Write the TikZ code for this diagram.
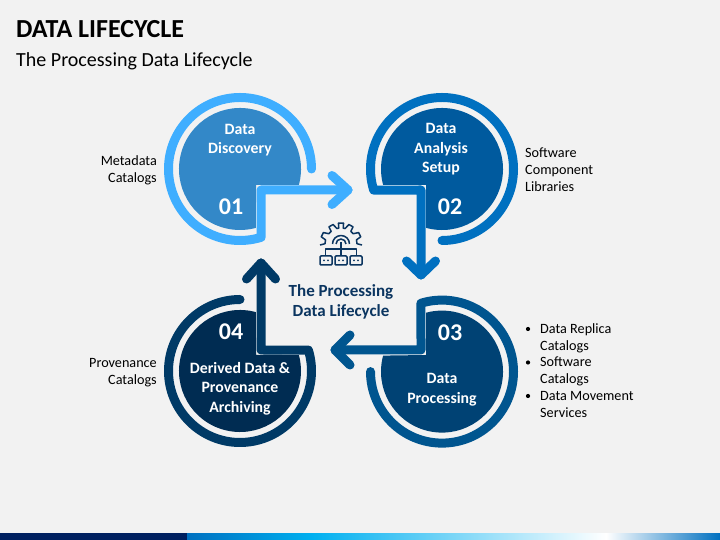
\documentclass[tikz,border=0pt]{standalone}
\usepackage{fontspec}
\setmainfont{Carlito}
\usetikzlibrary{calc}
\definecolor{bgc}{HTML}{F2F2F2}
\definecolor{ringa}{HTML}{3FAEFF}
\definecolor{disca}{HTML}{3388C8}
\definecolor{ringb}{HTML}{0070C0}
\definecolor{discb}{HTML}{005A9E}
\definecolor{ringc}{HTML}{00558F}
\definecolor{discc}{HTML}{004274}
\definecolor{ringd}{HTML}{003A66}
\definecolor{discd}{HTML}{002C52}
\definecolor{inkc}{HTML}{0B3560}
\definecolor{barnavy}{HTML}{002060}
\definecolor{barcyan}{HTML}{00B0F0}
\tikzset{
  ringline/.style={line width=9pt,line cap=round,line join=round},
  disctext/.style={text=white,font=\fontsize{15.8}{19.6}\selectfont\bfseries,align=center,inner sep=0pt},
  numtext/.style={text=white,font=\fontsize{24}{24}\selectfont\bfseries,inner sep=0pt},
  sidetext/.style={text=black,font=\fontsize{14.2}{16.8}\selectfont,inner sep=0pt},
  icon/.style={draw=inkc,line width=1.5pt,line join=round}
}
\begin{document}
\begin{tikzpicture}[x=1pt,y=1pt]
\useasboundingbox (0,0) rectangle (720,540);
\fill[bgc] (0,0) rectangle (720,540);
% bottom bar
\fill[white] (0,6.5) rectangle (720,7.2);
\shade[left color=ringb,right color=barcyan] (187,0) rectangle (312,6.5);
\shade[left color=barcyan,right color=white] (312,0) rectangle (606,6.5);
\shade[left color=white,right color=ringb] (606,0) rectangle (720,6.5);
\fill[barnavy] (0,0) rectangle (187,6.5);
% centres
\coordinate (c1) at (240,371);
\coordinate (c2) at (442,371);
\coordinate (c3) at (442,168.4);
\coordinate (c4) at (240,169);
% discs
\fill[disca] ($(c1)+(-15.2:61)$) arc[start angle=-15.2,end angle=285.2,radius=61pt] -- (256,355) -- cycle;
\fill[discb] ($(c2)+(254.8:61)$) arc[start angle=254.8,end angle=555.2,radius=61pt] -- (426,355) -- cycle;
\fill[discc] ($(c3)+(164.8:61)$) arc[start angle=164.8,end angle=465.2,radius=61pt] -- (426,185) -- cycle;
\fill[discd] ($(c4)+(74.8:61)$) arc[start angle=74.8,end angle=375.2,radius=61pt] -- (256,185) -- cycle;
% arrow coordinates
\coordinate (k1) at (261,350); \coordinate (t1) at (348,350);
\coordinate (k2) at (421,350); \coordinate (t2) at (421,265);
\coordinate (k3) at (421,190); \coordinate (t3) at (335,190);
\coordinate (k4) at (261,190); \coordinate (t4) at (261,277);
% rings with arrows
\draw[ringline,ringa] ($(c1)+(0:71.5)$) arc[start angle=0,end angle=287.2,radius=71.5pt] -- (k1) -- (t1);
\draw[ringline,ringa] (332,364.5) -- (t1) -- (332,335.5);
\draw[ringline,ringb] ($(c2)+(-90:71.5)$) arc[start angle=-90,end angle=197.2,radius=71.5pt] -- (k2) -- (t2);
\draw[ringline,ringb] (406.5,279) -- (t2) -- (435.5,279);
\draw[ringline,ringc] ($(c3)+(180:71.5)$) arc[start angle=180,end angle=467.1,radius=71.5pt] -- (k3) -- (t3);
\draw[ringline,ringc] (350,205) -- (t3) -- (350,175);
\draw[ringline,ringd] ($(c4)+(90:71.5)$) arc[start angle=90,end angle=377,radius=71.5pt] -- (k4) -- (t4);
\draw[ringline,ringd] (246.5,261) -- (t4) -- (275.5,261);
% titles
\node[anchor=base west,inner sep=0pt,font=\fontsize{26}{26}\selectfont\bfseries] (title) at (16,502.5) {DATA LIFECYCLE};
\node[anchor=base west,inner sep=0pt,font=\fontsize{20}{22}\selectfont] (subtitle) at (16,473.5) {The Processing Data Lifecycle};
% disc text
\node[disctext] (d1) at (240,400) {Data\\Discovery};
\node[numtext] (n1) at (231,333) {01};
\node[disctext] (d2) at (441,390.5) {Data\\Analysis\\Setup};
\node[numtext] (n2) at (450,333) {02};
\node[disctext] (d3) at (442,150.5) {Data\\Processing};
\node[numtext] (n3) at (450,207) {03};
\node[disctext] (d4) at (240,151.5) {Derived Data \&\\Provenance\\Archiving};
\node[numtext] (n4) at (231,208) {04};
% centre text
\node[text=inkc,font=\fontsize{17}{20}\selectfont\bfseries,align=center,inner sep=0pt] (ctext) at (341,238.5) {The Processing\\Data Lifecycle};
% side text
\node[sidetext,align=right,anchor=east] (s1) at (157,370) {Metadata\\Catalogs};
\node[sidetext,align=left,anchor=west] (s2) at (525,370.5) {Software\\Component\\Libraries};
\node[sidetext,align=right,anchor=east] (s4) at (157,167.5) {Provenance\\Catalogs};
\node[sidetext,align=left,anchor=west] (s3) at (540,169.5) {Data Replica\\Catalogs\\Software\\Catalogs\\Data Movement\\Services};
\fill (528,211) circle (2.1pt);
\fill (528,177.5) circle (2.1pt);
\fill (528,144) circle (2.1pt);
% icon
\begin{scope}[shift={(341,296)}]
\draw[icon] (-21,-1) -- (179:16) -- (165:16) -- (160:21) -- (147:21) -- (140:16) -- (128:16) -- (125:21) -- (112:21) -- (105:16)
  -- (98:16) -- (97:21) -- (83:21) -- (82:16) -- (75:16) -- (68:21) -- (55:21) -- (52:16) -- (40:16) -- (33:21) -- (20:21) -- (15:16) -- (1:16) -- (21,-1);
\draw[icon] (-8.5,0) arc[start angle=180,end angle=0,radius=8.5pt];
\draw[icon] (-5,0) arc[start angle=180,end angle=0,radius=5pt];
\draw[icon] (0,2) -- (0,-5);
\draw[icon] (-15.5,-12) -- (-15.5,-5) -- (15.5,-5) -- (15.5,-12);
\draw[icon] (0,-5) -- (0,-12);
\foreach \bx in {-21,-6,9}{
  \draw[icon,fill=bgc,rounded corners=1pt] (\bx,-12) rectangle ++(12,-9);
  \fill[inkc] (\bx+4,-16.5) circle (1pt) (\bx+8,-16.5) circle (1pt);
}
\end{scope}
\end{tikzpicture}
\end{document}
